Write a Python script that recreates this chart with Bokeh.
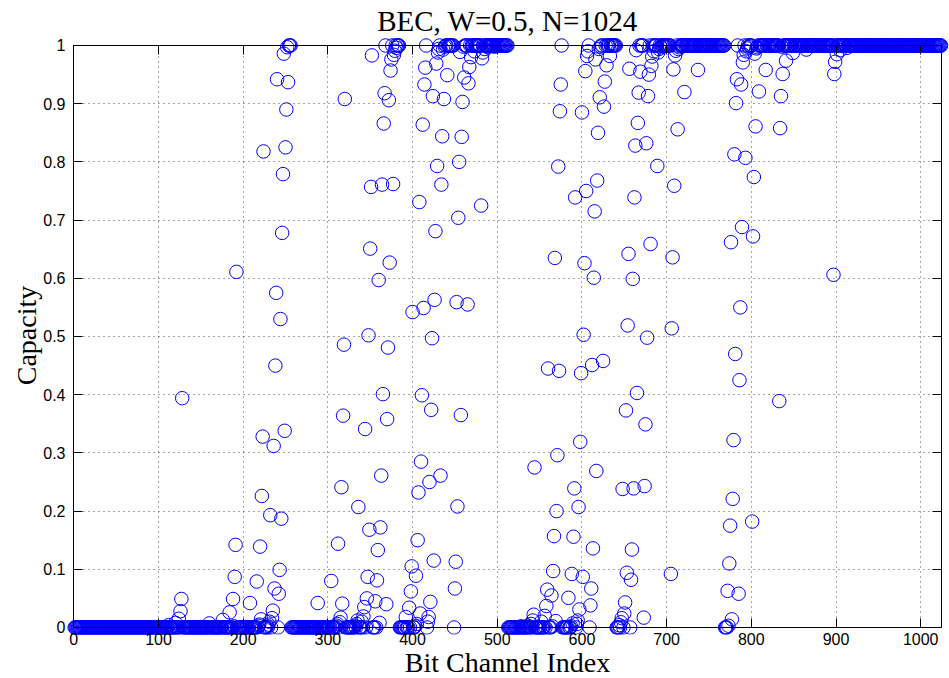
from bokeh.plotting import figure
from bokeh.models import (ColumnDataSource, FixedTicker, LinearAxis, Title,
                          Range1d, CustomLabelingPolicy)
from bokeh.embed import file_html
from bokeh.resources import INLINE

# ---------------- data (channel index 1..1024, capacity) ----------------
# channels whose capacity reads as 0
zero_runs = [(1, 111), (113, 119), (121, 123), (125, 125), (129, 159), (161, 175),
             (177, 183), (185, 187), (193, 207), (209, 215), (217, 217), (225, 227),
             (229, 229), (233, 233), (241, 241), (257, 287), (289, 303), (305, 309),
             (313, 313), (321, 331), (333, 333), (337, 339), (341, 341), (345, 345),
             (353, 355), (357, 357), (385, 391), (393, 395), (397, 397), (401, 402),
             (417, 417), (449, 449),
             (513, 527), (529, 535), (537, 539), (541, 541), (545, 551), (553, 555),
             (557, 557), (561, 563), (577, 583), (585, 586), (593, 593), (609, 609),
             (641, 643), (645, 645), (649, 649), (657, 657), (769, 771)]
# channels whose capacity reads as 1
one_runs = [(254, 256), (368, 368), (376, 376), (380, 380), (382, 384), (416, 416),
            (432, 432), (439, 440), (442, 448), (462, 464), (468, 468), (470, 472),
            (474, 480), (484, 484), (486, 488), (490, 496), (498, 512),
            (576, 576), (608, 608), (623, 624), (628, 628), (630, 632), (634, 640),
            (668, 668), (670, 672), (680, 680), (684, 684), (686, 688), (692, 692),
            (694, 704), (712, 712), (716, 720), (722, 736), (738, 768), (784, 784),
            (792, 792), (796, 796), (798, 800), (808, 808), (810, 816), (818, 832),
            (838, 840), (842, 848), (850, 864), (866, 896), (900, 900), (902, 904),
            (906, 912), (914, 1024)]

# channels with intermediate capacity, first half
mid_channel_a = [112, 120, 124, 126, 127, 128, 160, 176, 184, 188, 189, 190, 191, 192,
                 208, 216, 218, 219, 220, 221, 222, 223, 224, 228, 230, 231, 232, 234,
                 235, 236, 237, 238, 239, 240, 242, 243, 244, 245, 246, 247, 248, 249,
                 250, 251, 252, 253, 288, 304, 310, 311, 312, 314, 315, 316, 317, 318,
                 319, 320, 332, 334, 335, 336, 340, 342, 343, 344, 346, 347, 348, 349,
                 350, 351, 352, 356, 358, 359, 360, 361, 362, 363, 364, 365, 366, 367,
                 369, 370, 371, 372, 373, 374, 375, 377, 378, 379, 381, 392, 396, 398,
                 399, 400, 403, 404, 405, 406, 407, 408, 409, 410, 411, 412, 413, 414,
                 415, 418, 419, 420, 421, 422, 423, 424, 425, 426, 427, 428, 429, 430,
                 431, 433, 434, 435, 436, 437, 438, 441, 450, 451, 452, 453, 454, 455,
                 456, 457, 458, 459, 460, 461, 465, 466, 467, 469, 473, 481, 482, 483,
                 485, 489, 497]
mid_capacity_a = [0.004, 0.008, 0.015, 0.028, 0.049, 0.394, 0.007, 0.013, 0.026, 0.049,
                  0.002, 0.087, 0.142, 0.611, 0.042, 0.079, 0.003, 0.005, 0.139, 0.014,
                  0.226, 0.328, 0.818, 0.003, 0.005, 0.010, 0.193, 0.016, 0.029, 0.312,
                  0.067, 0.450, 0.575, 0.942, 0.058, 0.099, 0.530, 0.187, 0.678, 0.779,
                  0.986, 0.338, 0.825, 0.890, 0.997, 0.937, 0.042, 0.080, 0.003, 0.006,
                  0.144, 0.009, 0.017, 0.241, 0.041, 0.364, 0.486, 0.908, 0.003, 0.006,
                  0.012, 0.207, 0.010, 0.019, 0.035, 0.341, 0.050, 0.087, 0.502, 0.168,
                  0.651, 0.757, 0.983, 0.045, 0.081, 0.133, 0.597, 0.008, 0.172, 0.261,
                  0.761, 0.401, 0.866, 0.918, 0.040, 0.358, 0.481, 0.906, 0.627, 0.957,
                  0.976, 0.762, 0.984, 0.991, 0.996, 0.018, 0.034, 0.062, 0.105, 0.542,
                  0.002, 0.089, 0.006, 0.150, 0.232, 0.731, 0.024, 0.285, 0.399, 0.864,
                  0.549, 0.933, 0.962, 0.010, 0.018, 0.250, 0.044, 0.374, 0.497, 0.913,
                  0.115, 0.563, 0.681, 0.969, 0.793, 0.988, 0.994, 0.261, 0.761, 0.844,
                  0.993, 0.908, 0.998, 0.949, 0.067, 0.113, 0.559, 0.208, 0.704, 0.800,
                  0.989, 0.365, 0.843, 0.903, 0.998, 0.945, 0.555, 0.935, 0.963, 0.980,
                  0.990, 0.725, 0.978, 0.988, 0.994, 0.997, 0.998]

# channels with intermediate capacity, second half
mid_channel_b = [528, 536, 540, 542, 543, 544, 552, 556, 558, 559, 560, 564, 565, 566,
                 567, 568, 569, 570, 571, 572, 573, 574, 575, 584, 587, 588, 589, 590,
                 591, 592, 594, 595, 596, 597, 598, 599, 600, 601, 602, 603, 604, 605,
                 606, 607, 610, 611, 612, 613, 614, 615, 616, 617, 618, 619, 620, 621,
                 622, 625, 626, 627, 629, 633, 644, 646, 647, 648, 650, 651, 652, 653,
                 654, 655, 656, 658, 659, 660, 661, 662, 663, 664, 665, 666, 667, 669,
                 673, 674, 675, 676, 677, 678, 679, 681, 682, 683, 685, 689, 690, 691,
                 693, 705, 706, 707, 708, 709, 710, 711, 713, 714, 715, 721, 737, 772,
                 773, 774, 775, 776, 777, 778, 779, 780, 781, 782, 783, 785, 786, 787,
                 788, 789, 790, 791, 793, 794, 795, 797, 801, 802, 803, 804, 805, 806,
                 807, 809, 817, 833, 834, 835, 836, 837, 841, 849, 865, 897, 898, 899,
                 901, 905, 913]
mid_capacity_b = [0.002, 0.003, 0.006, 0.012, 0.022, 0.275, 0.010, 0.020, 0.037, 0.065,
                  0.445, 0.055, 0.002, 0.097, 0.157, 0.635, 0.011, 0.200, 0.296, 0.792,
                  0.441, 0.887, 0.933, 0.051, 0.002, 0.092, 0.007, 0.156, 0.239, 0.739,
                  0.006, 0.012, 0.207, 0.031, 0.319, 0.437, 0.885, 0.087, 0.503, 0.626,
                  0.956, 0.750, 0.982, 0.990, 0.038, 0.067, 0.451, 0.136, 0.601, 0.715,
                  0.976, 0.269, 0.768, 0.850, 0.994, 0.911, 0.998, 0.458, 0.895, 0.938,
                  0.966, 0.982, 0.004, 0.009, 0.016, 0.238, 0.024, 0.043, 0.373, 0.094,
                  0.519, 0.642, 0.960, 0.082, 0.134, 0.599, 0.239, 0.739, 0.828, 0.992,
                  0.403, 0.867, 0.919, 0.955, 0.017, 0.243, 0.349, 0.832, 0.498, 0.913,
                  0.950, 0.659, 0.965, 0.981, 0.990, 0.793, 0.988, 0.994, 0.997, 0.092,
                  0.514, 0.636, 0.959, 0.759, 0.983, 0.991, 0.856, 0.994, 0.997, 0.920,
                  0.958, 0.063, 0.003, 0.110, 0.175, 0.662, 0.014, 0.221, 0.322, 0.813,
                  0.470, 0.901, 0.942, 0.058, 0.425, 0.550, 0.933, 0.688, 0.971, 0.984,
                  0.807, 0.990, 0.995, 0.997, 0.182, 0.672, 0.774, 0.986, 0.861, 0.995,
                  0.997, 0.921, 0.958, 0.389, 0.858, 0.913, 0.998, 0.951, 0.974, 0.987,
                  0.993, 0.606, 0.951, 0.972, 0.985, 0.992, 0.996]

x_ticks = [0, 100, 200, 300, 400, 500, 600, 700, 800, 900, 1000]
y_ticks = [0, 0.1, 0.2, 0.3, 0.4, 0.5, 0.6, 0.7, 0.8, 0.9, 1]

# ---------------- assemble the series ----------------
points = {}
for a, b in zero_runs:
    for c in range(a, b + 1):
        points[c] = 0.0
for a, b in one_runs:
    for c in range(a, b + 1):
        points[c] = 1.0
for c, v in zip(mid_channel_a + mid_channel_b, mid_capacity_a + mid_capacity_b):
    points[c] = v
channel = sorted(points)
capacity = [points[c] for c in channel]
src = ColumnDataSource(dict(channel=channel, capacity=capacity))

# ---------------- figure ----------------
X0, X1 = 0, 1024
SERIF = "Liberation Serif"
SANS = "Liberation Sans"

p = figure(width=949, height=678, output_backend="svg", toolbar_location=None,
           x_range=Range1d(-9.8, 1034.0), y_range=Range1d(-0.01203, 1.01546),
           min_border_left=65, min_border_right=0, min_border_top=36,
           min_border_bottom=44, background_fill_color="white",
           border_fill_color="white")
p.outline_line_color = None

# title (above the frame)
p.title.text = "BEC, W=0.5, N=1024"
p.title.align = "center"
p.title.vertical_align = "bottom"
p.title.standoff = 0
p.title.text_font = SERIF
p.title.text_font_size = "29px"
p.title.text_font_style = "normal"
p.title.text_color = "black"

# tick-label axes (labels only; the box and ticks are drawn by the axes below)
for ax, ticks in ((p.xaxis[0], x_ticks), (p.yaxis[0], y_ticks)):
    ax.ticker = FixedTicker(ticks=ticks)
    ax.axis_line_color = None
    ax.major_tick_line_color = None
    ax.minor_tick_line_color = None
    ax.major_tick_in = 0
    ax.major_tick_out = 0
    ax.minor_tick_in = 0
    ax.minor_tick_out = 0
    ax.major_label_text_font = SANS
    ax.major_label_text_font_size = "16px"
    ax.major_label_text_color = "black"
p.xaxis[0].major_label_standoff = -2
p.yaxis[0].major_label_standoff = 0
p.yaxis[0].major_label_overrides = {0: "0", 1: "1"}

# axis titles
p.add_layout(Title(text="Bit Channel Index", align="center", vertical_align="bottom",
                   standoff=-6, text_font=SERIF, text_font_size="28px",
                   text_font_style="normal", text_color="black"), "below")
p.add_layout(Title(text="Capacity", align="center", vertical_align="bottom",
                   standoff=-3, text_font=SERIF, text_font_size="28px",
                   text_font_style="normal", text_color="black"), "left")

# the box: four axes at fixed positions, ticks pointing inwards, no labels
hide_labels = CustomLabelingPolicy(code="""
const n = indices.size
for (let i = 0; i < n; i++) indices.unset(i)
return indices
""")


def box_axis(ticks, loc, bounds, tick_in, tick_out):
    return LinearAxis(ticker=FixedTicker(ticks=ticks), fixed_location=loc,
                      bounds=bounds, major_tick_in=tick_in, major_tick_out=tick_out,
                      minor_tick_in=0, minor_tick_out=0, major_label_standoff=0,
                      major_label_text_font_size="0px", major_label_policy=hide_labels,
                      axis_line_color="black", axis_line_width=1,
                      major_tick_line_color="black", major_tick_line_width=1)


p.add_layout(box_axis(x_ticks, 0, (X0, X1), 9, 0), "below")   # bottom edge
p.add_layout(box_axis(x_ticks, 1, (X0, X1), 9, 0), "above")   # top edge
p.add_layout(box_axis(y_ticks, X0, (0, 1), 9, 0), "left")     # left edge
p.add_layout(box_axis(y_ticks, X1, (0, 1), 0, 9), "left")     # right edge

# dotted grid inside the box
gx = p.xgrid[0]
gy = p.ygrid[0]
gx.ticker = FixedTicker(ticks=x_ticks)
gy.ticker = FixedTicker(ticks=y_ticks)
grid_style = dict(grid_line_color="#3a3a3a", grid_line_dash="1 4", grid_line_width=1,
                  grid_line_alpha=0.9)
if "cross_bounds" in gx.properties():
    gx.cross_bounds = (0, 1)
    gy.cross_bounds = (X0, X1)
    for g in (gx, gy):
        for k, v in grid_style.items():
            setattr(g, k, v)
else:
    gx.visible = False
    gy.visible = False
    p.segment(x0=x_ticks, y0=[0] * len(x_ticks), x1=x_ticks, y1=[1] * len(x_ticks),
              line_color="#3a3a3a", line_dash="1 4", line_width=1, line_alpha=0.9)
    p.segment(x0=[X0] * len(y_ticks), y0=y_ticks, x1=[X1] * len(y_ticks), y1=y_ticks,
              line_color="#3a3a3a", line_dash="1 4", line_width=1, line_alpha=0.9)

# markers
p.scatter("channel", "capacity", source=src, marker="circle", size=13.5,
          fill_color=None, line_color="#0000ff", line_width=1)

open("out.html", "w").write(file_html(p, INLINE))
